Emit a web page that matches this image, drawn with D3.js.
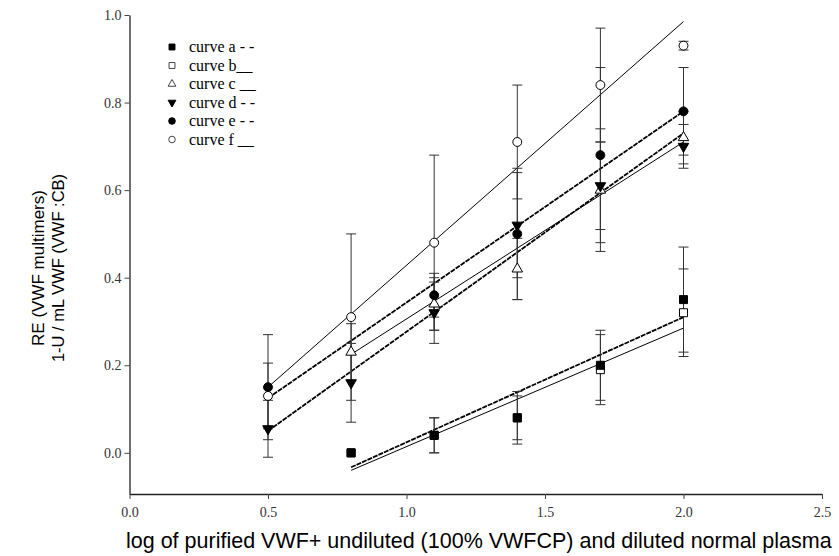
<!DOCTYPE html>
<html>
<head>
<meta charset="utf-8">
<script src="https://cdn.jsdelivr.net/npm/d3@7"></script>
<style>
  body { margin: 0; background: #fff; }
  svg { display: block; }
</style>
</head>
<body>
<svg id="chart" width="839" height="556"></svg>
<script>
// data
const doses = [0.5, 0.8, 1.1, 1.4, 1.7, 2.0];
const curveNames = ["a", "b", "c", "d", "e", "f"];

// mean values per curve (null = no point)
const curveA = [null, 0.00, 0.04, 0.08, 0.20, 0.35];
const curveB = [null, 0.00, 0.04, 0.08, 0.19, 0.32];
const curveC = [null, 0.23, 0.34, 0.42, 0.60, 0.72];
const curveD = [0.055, 0.16, 0.32, 0.52, 0.61, 0.70];
const curveE = [0.15, null, 0.36, 0.50, 0.68, 0.78];
const curveF = [0.13, 0.31, 0.48, 0.71, 0.84, 0.93];

// error bar half-widths
const errA = [null, 0, 0.04, 0.06, 0.08, 0.12];
const errB = [null, 0, 0.04, 0.05, 0.08, 0.10];
const errC = [null, 0.065, 0.06, 0.07, 0.14, 0.06];
const errD = [0.065, 0.09, 0.07, 0.12, 0.10, 0.05];
const errE = [0.12, null, 0.05, 0.15, 0.20, 0.10];
const errF = [0.075, 0.19, 0.20, 0.13, 0.13, 0.01];

// regression lines (start / end) per curve
const fitX0 = [0.8, 0.8, 0.8, 0.5, 0.5, 0.5];
const fitY0 = [-0.033, -0.04, 0.225, 0.05, 0.125, 0.15];
const fitX1 = [2.0, 2.0, 2.0, 2.0, 2.0, 2.0];
const fitY1 = [0.31, 0.285, 0.71, 0.73, 0.78, 0.985];

const legendLabels = ["curve a - -", "curve b__", "curve c __", "curve d - -", "curve e - -", "curve f __"];
const xTicks = [0.0, 0.5, 1.0, 1.5, 2.0, 2.5];
const yTicks = [0.0, 0.2, 0.4, 0.6, 0.8, 1.0];

const means = [curveA, curveB, curveC, curveD, curveE, curveF];
const errs = [errA, errB, errC, errD, errE, errF];

// per-curve look
const dashed = [true, false, false, true, true, false];
const symbols = [d3.symbolSquare, d3.symbolSquare, d3.symbolTriangle, d3.symbolTriangle, d3.symbolCircle, d3.symbolCircle];
const filled = [true, false, false, true, true, false];
const flipped = [false, false, false, true, false, false];
const symSize = [64, 64, 48, 48, 62, 62];

const svg = d3.select("#chart");

const x = d3.scaleLinear().domain([0, 2.5]).range([129.5, 822]);
const y = d3.scaleLinear().domain([-0.094, 1.0]).range([494, 15]);

const serif = "'Liberation Serif', 'Times New Roman', serif";
const sans = "'Liberation Sans', Arial, sans-serif";

// axes
const xAxis = svg.append("g")
  .attr("transform", `translate(0,${y(-0.094)})`)
  .call(d3.axisBottom(x).tickValues(xTicks).tickFormat(d3.format(".1f")).tickSize(5).tickSizeOuter(0));
const yAxis = svg.append("g")
  .attr("transform", `translate(${x(0)},0)`)
  .call(d3.axisLeft(y).tickValues(yTicks).tickFormat(d3.format(".1f")).tickSize(5).tickSizeOuter(0));

[xAxis, yAxis].forEach(g => {
  g.select(".domain").attr("stroke", "#222").attr("stroke-width", 1.3);
  g.selectAll(".tick line").attr("stroke", "#444");
  g.selectAll(".tick text").attr("font-family", serif).attr("font-size", 14).attr("fill", "#333");
});
xAxis.selectAll(".tick text").attr("dy", "1.1em");

// axis titles
svg.append("text")
  .attr("x", 126).attr("y", 548)
  .attr("font-family", sans).attr("font-size", 21.5)
  .text("log of purified VWF+ undiluted (100% VWFCP) and diluted normal plasma");

const yTitle = svg.append("g").attr("transform", "translate(0,268) rotate(-90)");
yTitle.append("text").attr("x", 0).attr("y", 44)
  .attr("text-anchor", "middle").attr("font-family", sans).attr("font-size", 17)
  .text("RE (VWF multimers)");
yTitle.append("text").attr("x", 0).attr("y", 64)
  .attr("text-anchor", "middle").attr("font-family", sans).attr("font-size", 16.5)
  .text("1-U / mL VWF (VWF :CB)");

// regression lines
const plot = svg.append("g");
curveNames.forEach((nm, i) => {
  plot.append("line")
    .attr("x1", x(fitX0[i])).attr("y1", y(fitY0[i]))
    .attr("x2", x(fitX1[i])).attr("y2", y(fitY1[i]))
    .attr("stroke", "#000")
    .attr("stroke-width", dashed[i] ? 1.8 : 1)
    .attr("stroke-dasharray", dashed[i] ? "5,1" : null);
});

// error bars
curveNames.forEach((nm, i) => {
  const pts = doses.map((d, j) => ({ d, v: means[i][j], e: errs[i][j] }))
    .filter(p => p.v != null && p.e > 0);
  const g = plot.append("g").attr("stroke", "#333").attr("stroke-width", 1);
  pts.forEach(p => {
    const cx = x(p.d);
    g.append("line").attr("x1", cx).attr("x2", cx).attr("y1", y(p.v - p.e)).attr("y2", y(p.v + p.e));
    [p.v - p.e, p.v + p.e].forEach(v => {
      g.append("line").attr("x1", cx - 5).attr("x2", cx + 5).attr("y1", y(v)).attr("y2", y(v));
    });
  });
});

// markers (b first so a sits on top)
const order = [1, 0, 2, 3, 4, 5];
order.forEach(i => {
  const sym = d3.symbol().type(symbols[i]).size(symSize[i]);
  doses.forEach((d, j) => {
    const v = means[i][j];
    if (v == null) return;
    plot.append("path")
      .attr("d", sym())
      .attr("transform", `translate(${x(d)},${y(v)})` + (flipped[i] ? " rotate(180)" : ""))
      .attr("fill", filled[i] ? "#000" : "#fff")
      .attr("stroke", "#000")
      .attr("stroke-width", 1);
  });
});

// legend
const legend = svg.append("g").attr("transform", "translate(172,47)");
curveNames.forEach((nm, i) => {
  const row = legend.append("g").attr("transform", `translate(0,${i * 18.5})`);
  const small = d3.symbol().type(symbols[i]).size(symSize[i] * 0.55);
  row.append("path")
    .attr("d", small())
    .attr("transform", flipped[i] ? "rotate(180)" : null)
    .attr("fill", filled[i] ? "#000" : "#fff")
    .attr("stroke", filled[i] ? "#000" : "#444")
    .attr("stroke-width", 1);
  row.append("text")
    .attr("x", 17).attr("y", 5)
    .attr("font-family", serif).attr("font-size", 16)
    .text(legendLabels[i]);
});
</script>
</body>
</html>
